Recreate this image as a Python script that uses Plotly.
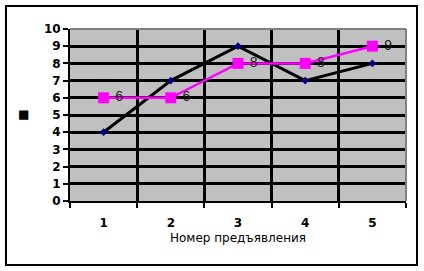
import plotly.graph_objects as go

categories = [1, 2, 3, 4, 5]
tick_labels = ["1", "2", "3", "4", "5"]
series_black = [4, 7, 9, 7, 8]
series_pink = [6, 6, 8, 8, 9]
pink_labels = ["6", "6", "8", "8", "9"]
y_ticks = list(range(0, 11))

fig = go.Figure()
fig.add_trace(go.Scatter(
    x=categories, y=series_black, mode="lines+markers",
    line=dict(color="black", width=3),
    marker=dict(symbol="diamond", size=6, color="#000080"),
    showlegend=False, cliponaxis=False))
fig.add_trace(go.Scatter(
    x=categories, y=series_pink, mode="lines+markers+text",
    line=dict(color="#FF00FF", width=2.5),
    marker=dict(symbol="square", size=11, color="#FF00FF"),
    text=[" " + t for t in pink_labels], textposition="middle right",
    textfont=dict(family="Liberation Sans, Arial", size=14, color="#222222"),
    showlegend=False, cliponaxis=False))

fig.update_layout(
    width=424, height=271,
    margin=dict(l=70, r=18, t=29, b=70),
    paper_bgcolor="white", plot_bgcolor="#C0C0C0",
    font=dict(family="DejaVu Sans", color="black"),
    xaxis=dict(
        range=[0.5, 5.5], tickvals=categories, ticktext=tick_labels,
        ticks="", showgrid=False, zeroline=False,
        showline=True, linecolor="black", linewidth=2,
        tickfont=dict(family="DejaVu Sans", size=12, color="black", weight="bold"),
        ticklabelstandoff=10,
        minor=dict(tick0=0.5, dtick=1, ticks="outside", ticklen=5,
                   tickwidth=2, tickcolor="black", showgrid=True,
                   gridcolor="black", gridwidth=2.5),
        title=dict(text="Номер предъявления",
                   font=dict(family="DejaVu Sans", size=12, color="black"),
                   standoff=4),
        fixedrange=True),
    yaxis=dict(
        range=[0, 10], tickvals=y_ticks, ticks="outside", ticklen=5,
        tickwidth=2, tickcolor="black", showgrid=True, gridcolor="black",
        gridwidth=2.5, zeroline=False, showline=True, linecolor="black",
        linewidth=2,
        tickfont=dict(family="DejaVu Sans", size=12, color="black", weight="bold"),
        title=dict(text="■", font=dict(size=12, color="black"), standoff=14),
        fixedrange=True),
)

# gray top/right plot-area border
fig.add_shape(type="line", xref="paper", yref="paper", x0=0, x1=1, y0=1, y1=1,
              line=dict(color="#808080", width=2))
fig.add_shape(type="line", xref="paper", yref="paper", x0=1, x1=1, y0=0, y1=1,
              line=dict(color="#808080", width=2))
# outer chart frame
fig.add_shape(type="rect", xref="paper", yref="paper",
              x0=(6 - 70) / 336, x1=(417 - 70) / 336,
              y0=(201 - 265) / 172, y1=(201 - 6) / 172,
              line=dict(color="black", width=2), layer="above")

fig.write_html("out.html")
